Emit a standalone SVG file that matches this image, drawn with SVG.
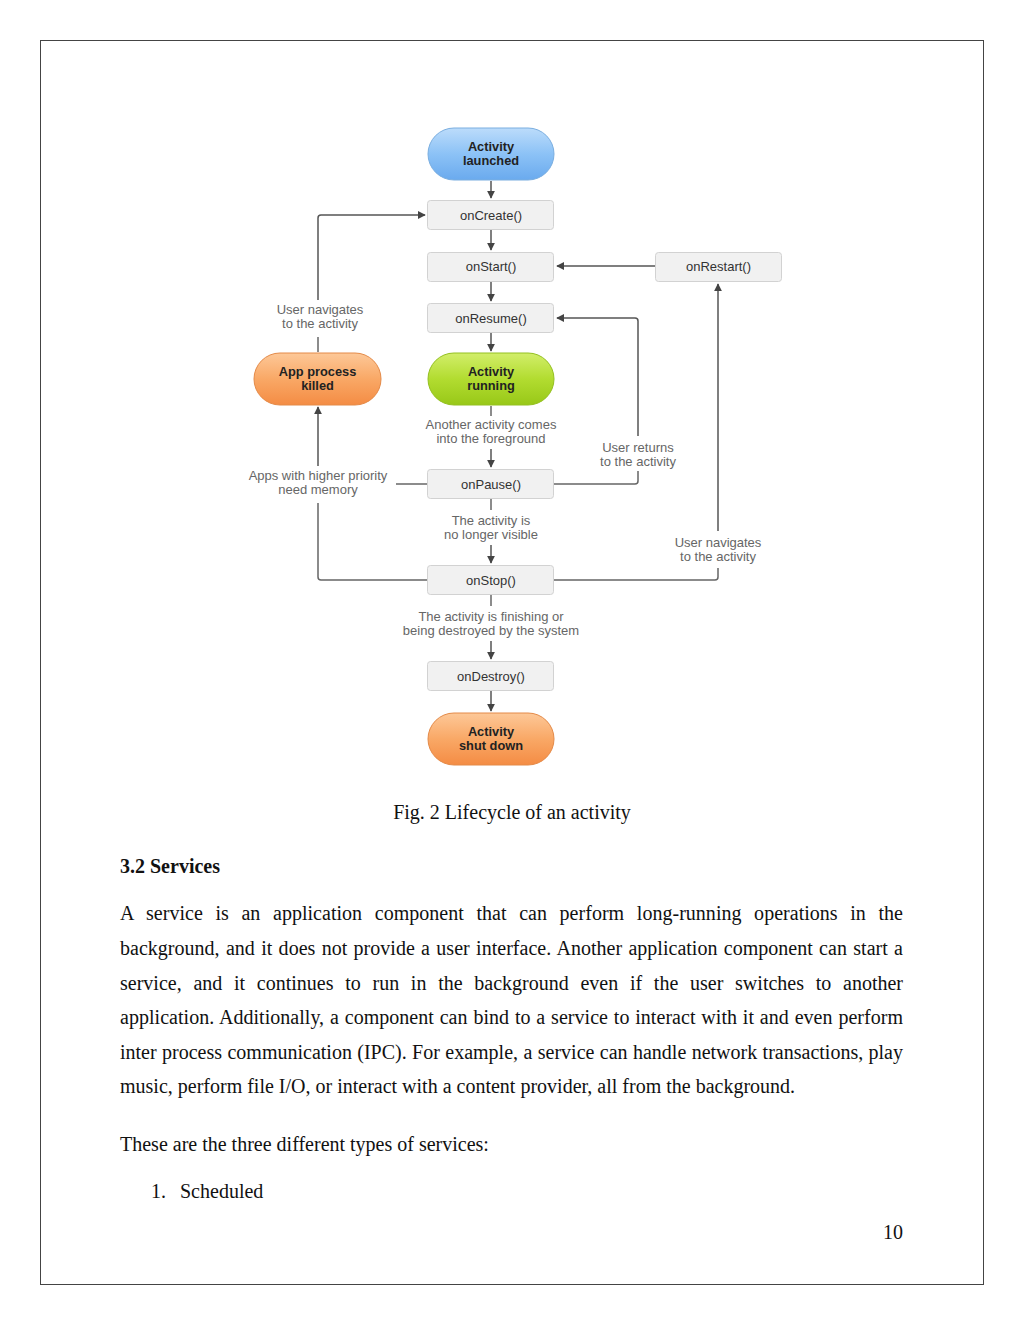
<svg xmlns="http://www.w3.org/2000/svg" width="1024" height="1325" viewBox="0 0 1024 1325">
<defs>
<linearGradient id="gBlue" x1="0" y1="0" x2="0" y2="1"><stop offset="0" stop-color="#bcdcfb"/><stop offset="0.5" stop-color="#8cc2f6"/><stop offset="1" stop-color="#6aaaee"/></linearGradient>
<linearGradient id="gGreen" x1="0" y1="0" x2="0" y2="1"><stop offset="0" stop-color="#d2ee6a"/><stop offset="0.5" stop-color="#b2dc30"/><stop offset="1" stop-color="#98c818"/></linearGradient>
<linearGradient id="gOrange" x1="0" y1="0" x2="0" y2="1"><stop offset="0" stop-color="#fdc898"/><stop offset="0.5" stop-color="#f9a866"/><stop offset="1" stop-color="#f48c44"/></linearGradient>
<marker id="ah" viewBox="0 0 10 10" refX="9" refY="5" markerWidth="8" markerHeight="8" markerUnits="userSpaceOnUse" orient="auto"><path d="M0,0 L10,5 L0,10 z" fill="#444"/></marker>
</defs>
<style>
.box{fill:#f1f1f1;stroke:#d2d2d2;stroke-width:1}
.bt{font-family:"Liberation Sans",Arial,sans-serif;font-size:13px;fill:#333;text-anchor:middle}
.pt{font-family:"Liberation Sans",Arial,sans-serif;font-size:12.8px;font-weight:bold;fill:#222;text-anchor:middle}
.lb{font-family:"Liberation Sans",Arial,sans-serif;font-size:13px;fill:#666;text-anchor:middle}
.ln{fill:none;stroke:#666;stroke-width:1.5}
.ar{fill:none;stroke:#555;stroke-width:1.5;marker-end:url(#ah)}
.tx{font-family:"Liberation Serif","Times New Roman",serif;font-size:20px;fill:#111}
</style>
<rect x="40.5" y="40.5" width="943" height="1244" fill="#fff" stroke="#444" stroke-width="1"/>

<g id="connectors">
<path class="ar" d="M491,181 V198"/>
<path class="ar" d="M491,230 V250"/>
<path class="ar" d="M491,282 V301"/>
<path class="ar" d="M491,333 V351"/>
<path class="ln" d="M491,406 V416"/>
<path class="ar" d="M491,449 V467"/>
<path class="ln" d="M491,499 V510"/>
<path class="ar" d="M491,545 V563"/>
<path class="ln" d="M491,595 V606"/>
<path class="ar" d="M491,641 V659"/>
<path class="ar" d="M491,691 V711"/>
<path class="ar" d="M655,266 H557"/>
<path class="ln" d="M318,352 V337"/>
<path class="ar" d="M318,300 V218 Q318,215 321,215 H425"/>
<path class="ln" d="M427,484 H396"/>
<path class="ln" d="M427,580 H321 Q318,580 318,577 V503"/>
<path class="ar" d="M318,466 V407"/>
<path class="ln" d="M554,484 H635 Q638,484 638,481 V471"/>
<path class="ar" d="M638,436 V321 Q638,318 635,318 H557"/>
<path class="ln" d="M554,580 H715 Q718,580 718,577 V568"/>
<path class="ar" d="M718,531 V284"/>
</g>

<g id="n-launched"><rect x="428" y="128" width="126" height="52" rx="26" fill="url(#gBlue)" stroke="#7aaee0"/><text class="pt" x="491" y="151">Activity</text><text class="pt" x="491" y="165">launched</text></g>
<g id="n-oncreate"><rect class="box" x="427.5" y="200.5" width="126" height="29" rx="3"/><text class="bt" x="491" y="219.5">onCreate()</text></g>
<g id="n-onstart"><rect class="box" x="427.5" y="252.5" width="126" height="29" rx="3"/><text class="bt" x="491" y="271">onStart()</text></g>
<g id="n-onrestart"><rect class="box" x="655.5" y="252.5" width="126" height="29" rx="3"/><text class="bt" x="718.5" y="271">onRestart()</text></g>
<g id="n-onresume"><rect class="box" x="427.5" y="303.5" width="126" height="29" rx="3"/><text class="bt" x="491" y="322.5">onResume()</text></g>
<g id="n-running"><rect x="428" y="353" width="126" height="52" rx="26" fill="url(#gGreen)" stroke="#94c020"/><text class="pt" x="491" y="376">Activity</text><text class="pt" x="491" y="390">running</text></g>
<g id="n-killed"><rect x="254" y="353" width="127" height="52" rx="26" fill="url(#gOrange)" stroke="#e48a48"/><text class="pt" x="317.5" y="376">App process</text><text class="pt" x="317.5" y="390">killed</text></g>
<g id="n-onpause"><rect class="box" x="427.5" y="469.5" width="126" height="29" rx="3"/><text class="bt" x="491" y="488.5">onPause()</text></g>
<g id="n-onstop"><rect class="box" x="427.5" y="565.5" width="126" height="29" rx="3"/><text class="bt" x="491" y="584.5">onStop()</text></g>
<g id="n-ondestroy"><rect class="box" x="427.5" y="661.5" width="126" height="29" rx="3"/><text class="bt" x="491" y="680.5">onDestroy()</text></g>
<g id="n-shutdown"><rect x="428" y="713" width="126" height="52" rx="26" fill="url(#gOrange)" stroke="#e48a48"/><text class="pt" x="491" y="736">Activity</text><text class="pt" x="491" y="750">shut down</text></g>

<g id="labels">
<text class="lb" x="320" y="314">User navigates</text><text class="lb" x="320" y="328">to the activity</text>
<text class="lb" x="491" y="429">Another activity comes</text><text class="lb" x="491" y="443">into the foreground</text>
<text class="lb" x="638" y="452">User returns</text><text class="lb" x="638" y="466">to the activity</text>
<text class="lb" x="318" y="480">Apps with higher priority</text><text class="lb" x="318" y="494">need memory</text>
<text class="lb" x="491" y="525">The activity is</text><text class="lb" x="491" y="539">no longer visible</text>
<text class="lb" x="718" y="547">User navigates</text><text class="lb" x="718" y="561">to the activity</text>
<text class="lb" x="491" y="621">The activity is finishing or</text><text class="lb" x="491" y="635">being destroyed by the system</text>
</g>

<g id="page-text">
<text class="tx" x="512" y="819" text-anchor="middle">Fig. 2 Lifecycle of an activity</text>
<text class="tx" x="120" y="873" font-weight="bold">3.2 Services</text>
<text class="tx" x="120" y="920" word-spacing="7.6" textLength="783" lengthAdjust="spacing">A service is an application component that can perform long-running operations in the</text>
<text class="tx" x="120" y="955" word-spacing="1.3" textLength="783" lengthAdjust="spacing">background, and it does not provide a user interface. Another application component can start a</text>
<text class="tx" x="120" y="990" word-spacing="6.7" textLength="783" lengthAdjust="spacing">service, and it continues to run in the background even if the user switches to another</text>
<text class="tx" x="120" y="1024" word-spacing="0.8" textLength="783" lengthAdjust="spacing">application. Additionally, a component can bind to a service to interact with it and even perform</text>
<text class="tx" x="120" y="1059" word-spacing="0.4" textLength="783" lengthAdjust="spacing">inter process communication (IPC). For example, a service can handle network transactions, play</text>
<text class="tx" x="120" y="1093">music, perform file I/O, or interact with a content provider, all from the background.</text>
<text class="tx" x="120" y="1151">These are the three different types of services:</text>
<text class="tx" x="151" y="1198" font-size="14">1.</text>
<text class="tx" x="180" y="1198">Scheduled</text>
<text class="tx" x="903" y="1239" text-anchor="end">10</text>
</g>
</svg>
